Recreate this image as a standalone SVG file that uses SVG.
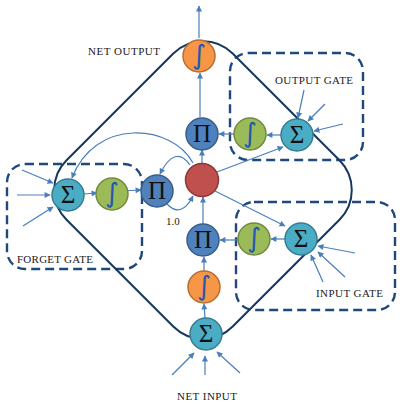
<svg xmlns="http://www.w3.org/2000/svg" width="403" height="407" viewBox="0 0 403 407">
<defs>
<marker id="ah" viewBox="0 0 10 10" refX="9" refY="5" markerWidth="7" markerHeight="6" markerUnits="userSpaceOnUse" orient="auto">
<path d="M0,0 L10,5 L0,10 z" fill="#4A7EBB"/>
</marker>
<style>
.box{fill:none;stroke:#1F497D;stroke-width:2.4;stroke-dasharray:9 5}
.outline{fill:none;stroke:#17375E;stroke-width:2}
.c{fill:none;stroke:#4A7EBB;stroke-width:1.2;marker-end:url(#ah)}
.sum{fill:#4BACC6;stroke:#357D91;stroke-width:1.5}
.sig{fill:#9BBB59;stroke:#71893F;stroke-width:1.5}
.sqo{fill:#F79646;stroke:#B66D31;stroke-width:1.5}
.prod{fill:#4F81BD;stroke:#385D8A;stroke-width:1.5}
.cell{fill:#C0504D;stroke:#8C3836;stroke-width:1.5}
.sym{font-family:"Liberation Serif","DejaVu Serif",serif;font-size:25px;fill:#111;text-anchor:middle}
.int{font-family:"DejaVu Sans","Liberation Sans",sans-serif;font-size:27px;fill:#2458B0;text-anchor:middle}
.lbl{font-family:"Liberation Serif","Times New Roman",serif;font-size:11px;fill:#1a1a1a}
</style>
</defs>
<rect width="403" height="407" fill="#fff"/>
<g id="boxes">
<rect class="box" x="230" y="53" width="133" height="107" rx="18"/>
<rect class="box" x="7" y="164" width="135" height="105" rx="18"/>
<rect class="box" x="236" y="202" width="159" height="108" rx="18"/>
</g>
<g id="cell-outline">
<rect class="outline" x="-117.5" y="-117.5" width="235" height="235" rx="42" transform="translate(203,190) rotate(45)"/>
</g>
<g id="connectors">
<line class="c" x1="199" y1="38" x2="199" y2="6"/>
<line class="c" x1="200" y1="117" x2="200" y2="73"/>
<line class="c" x1="234" y1="134" x2="219" y2="134"/>
<line class="c" x1="281" y1="135" x2="267" y2="135"/>
<line class="c" x1="304" y1="90" x2="298" y2="118"/>
<line class="c" x1="325" y1="104" x2="308" y2="121"/>
<line class="c" x1="343" y1="124" x2="314" y2="131"/>
<line class="c" x1="217" y1="172" x2="283" y2="147"/>
<line class="c" x1="202" y1="164" x2="202" y2="150"/>
<line class="c" x1="203" y1="224" x2="203" y2="197"/>
<line class="c" x1="238" y1="240" x2="220" y2="240"/>
<line class="c" x1="285" y1="239" x2="271" y2="239"/>
<line class="c" x1="215" y1="191" x2="285" y2="226"/>
<line class="c" x1="355" y1="253" x2="318" y2="246"/>
<line class="c" x1="345" y1="277" x2="318" y2="252"/>
<line class="c" x1="323" y1="282" x2="311" y2="255"/>
<line class="c" x1="204" y1="271" x2="204" y2="257"/>
<line class="c" x1="205" y1="318" x2="204" y2="304"/>
<line class="c" x1="172" y1="375" x2="194" y2="353"/>
<line class="c" x1="205" y1="375" x2="205" y2="356"/>
<line class="c" x1="240" y1="373" x2="217" y2="352"/>
<line class="c" x1="22" y1="170" x2="53" y2="183"/>
<line class="c" x1="17" y1="195" x2="50" y2="195"/>
<line class="c" x1="23" y1="226" x2="53" y2="207"/>
<line class="c" x1="83" y1="194" x2="97" y2="193"/>
<line class="c" x1="120" y1="191" x2="141" y2="190"/>
<path class="c" d="M167,204 Q181,219 193,196"/>
<path class="c" d="M190,165 Q175,144 160,174"/>
<path class="c" d="M193,163 C172,124 95,117 72,178"/>
</g>
<g id="net-output-squash">
<circle class="sqo" cx="199" cy="56" r="16"/>
<text class="int" x="199" y="64">∫</text>
</g>
<g id="output-prod">
<circle class="prod" cx="202" cy="134" r="16"/>
<text class="sym" x="202" y="142">Π</text>
</g>
<g id="output-gate-sig">
<circle class="sig" cx="250" cy="134" r="16"/>
<text class="int" x="250" y="142">∫</text>
</g>
<g id="output-gate-sum">
<circle class="sum" cx="297" cy="135" r="16"/>
<text class="sym" x="297" y="143">Σ</text>
</g>
<g id="cell">
<circle class="cell" cx="202" cy="180" r="16.5"/>
</g>
<g id="forget-gate-sum">
<circle class="sum" cx="68" cy="195" r="16"/>
<text class="sym" x="68" y="203">Σ</text>
</g>
<g id="forget-gate-sig">
<circle class="sig" cx="112" cy="194" r="16"/>
<text class="int" x="112" y="202">∫</text>
</g>
<g id="forget-prod">
<circle class="prod" cx="157" cy="191" r="16"/>
<text class="sym" x="157" y="199">Π</text>
</g>
<g id="input-prod">
<circle class="prod" cx="203" cy="240" r="16"/>
<text class="sym" x="203" y="248">Π</text>
</g>
<g id="input-gate-sig">
<circle class="sig" cx="254" cy="239" r="16"/>
<text class="int" x="254" y="247">∫</text>
</g>
<g id="input-gate-sum">
<circle class="sum" cx="301" cy="239" r="16"/>
<text class="sym" x="301" y="247">Σ</text>
</g>
<g id="net-input-squash">
<circle class="sqo" cx="204" cy="287" r="16"/>
<text class="int" x="204" y="295">∫</text>
</g>
<g id="net-input-sum">
<circle class="sum" cx="206" cy="334" r="16"/>
<text class="sym" x="206" y="342">Σ</text>
</g>
<g id="labels">
<text class="lbl" x="88" y="55" textLength="72">NET OUTPUT</text>
<text class="lbl" x="275" y="84" textLength="78">OUTPUT GATE</text>
<text class="lbl" x="17" y="263" textLength="76">FORGET GATE</text>
<text class="lbl" x="316" y="297" textLength="67">INPUT GATE</text>
<text class="lbl" x="177" y="400" textLength="60">NET INPUT</text>
<text class="lbl" x="166" y="225">1.0</text>
</g>
</svg>
